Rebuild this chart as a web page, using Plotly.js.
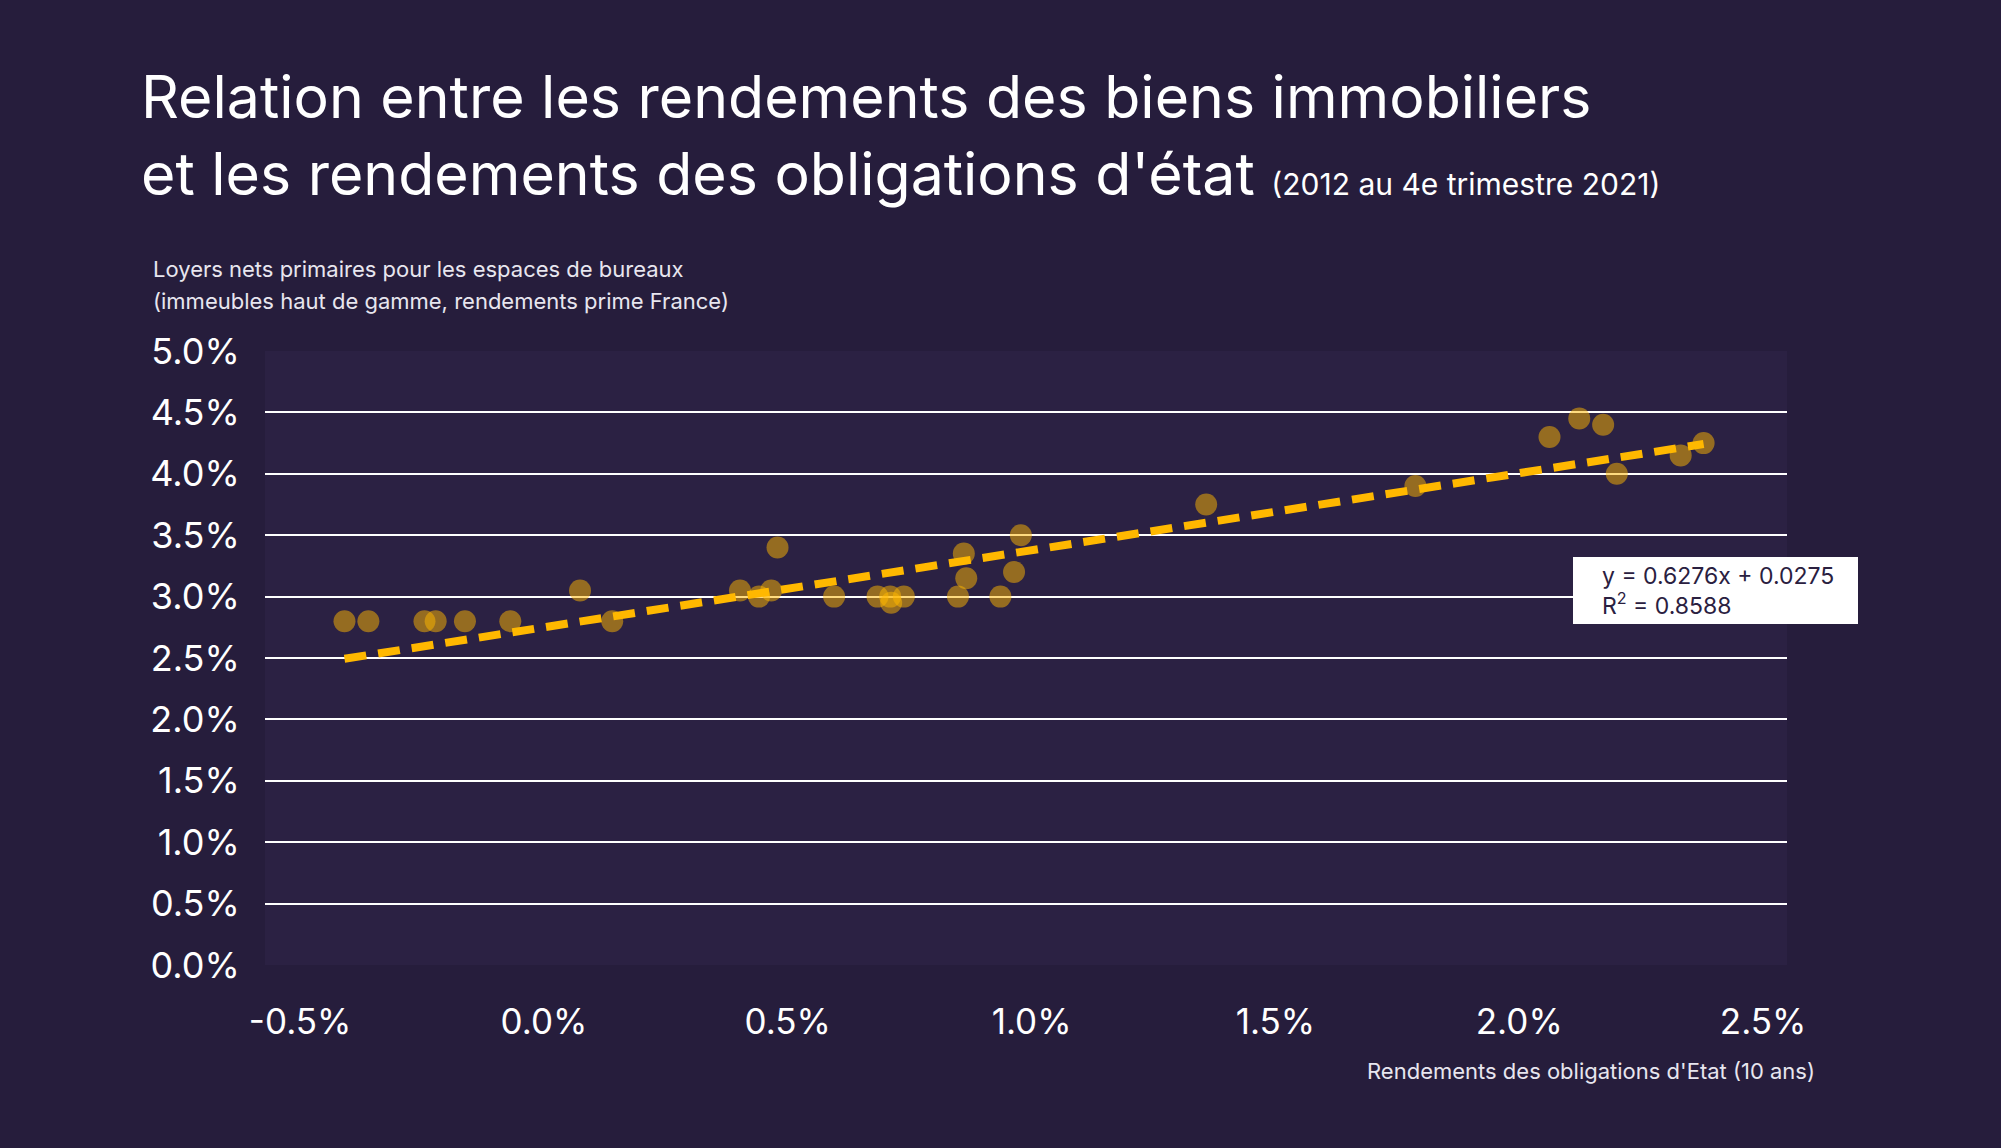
<!DOCTYPE html>
<html>
<head>
<meta charset="utf-8">
<script src="https://cdn.plot.ly/plotly-3.0.1.min.js"></script>
<style>
  html, body { margin: 0; padding: 0; background: #261d3c; }
  #chart { width: 2001px; height: 1148px; }
</style>
</head>
<body>
<div id="chart"></div>
<script>
// Government bond yields (10y), in %
const bondYield = [-0.409, -0.360, -0.245, -0.222, -0.162, -0.069, 0.074, 0.140,
  0.402, 0.441, 0.466, 0.479, 0.595, 0.684, 0.710, 0.712, 0.738, 0.849, 0.861,
  0.866, 0.936, 0.964, 0.978, 1.358, 1.787, 2.062, 2.123, 2.172, 2.200, 2.331, 2.378];
// Prime office net yields (France), in %
const primeYield = [2.80, 2.80, 2.80, 2.80, 2.80, 2.80, 3.05, 2.80,
  3.05, 3.00, 3.05, 3.40, 3.00, 3.00, 3.00, 2.95, 3.00, 3.00, 3.35,
  3.15, 3.00, 3.20, 3.50, 3.75, 3.90, 4.30, 4.45, 4.40, 4.00, 4.15, 4.25];
// Linear trend reported on the chart (fractions)
const trendSlope = 0.6276;
const trendIntercept = 0.0275;
const trendR2 = 0.8588;

const xTickVals = [-0.5, 0.0, 0.5, 1.0, 1.5, 2.0, 2.5];
const xTickText = ['-0.5%', '0.0%', '0.5%', '1.0%', '1.5%', '2.0%', '2.5%'];
const yTickVals = [0, 0.5, 1, 1.5, 2, 2.5, 3, 3.5, 4, 4.5, 5];
const yTickText = ['0.0%', '0.5%', '1.0%', '1.5%', '2.0%', '2.5%', '3.0%', '3.5%', '4.0%', '4.5%', '5.0%'];

const titleMain = 'Relation entre les rendements des biens immobiliers';
const titleLine2 = "et les rendements des obligations d'état";
const titleSub = '(2012 au 4e trimestre 2021)';
const yTitle1 = 'Loyers nets primaires pour les espaces de bureaux';
const yTitle2 = '(immeubles haut de gamme, rendements prime France)';
const xTitle = "Rendements des obligations d'Etat (10 ans)";

const xMin = Math.min(...bondYield), xMax = Math.max(...bondYield);
const trendX = [xMin, xMax];
const trendY = trendX.map(v => (trendSlope * v / 100 + trendIntercept) * 100);

const FONT = 'Inter, "Noto Sans", sans-serif';
const GOLD = '#ffb800';

const traces = [
  {
    type: 'scatter', mode: 'markers',
    x: bondYield, y: primeYield,
    marker: { color: GOLD, size: 22, opacity: 0.5, line: { width: 0 } },
    hoverinfo: 'x+y', showlegend: false
  },
  {
    type: 'scatter', mode: 'lines',
    x: trendX, y: trendY,
    line: { color: GOLD, width: 8, dash: '22px,12px' },
    hoverinfo: 'skip', showlegend: false
  }
];

const layout = {
  width: 2001, height: 1148,
  paper_bgcolor: '#261d3c',
  plot_bgcolor: '#2b2143',
  font: { family: FONT, color: '#ffffff' },
  margin: { l: 265, r: 214, t: 351, b: 183 },
  showlegend: false,
  title: {
    text: titleMain + '<br>' + titleLine2 + ' <span style="font-size:30px">' + titleSub + '</span>',
    font: { family: FONT, size: 59, color: '#ffffff' },
    x: 141 / 2001, xref: 'container', xanchor: 'left',
    y: 1 - 118 / 1148, yref: 'container', yanchor: 'top'
  },
  xaxis: {
    range: [-0.572, 2.549],
    tickmode: 'array', tickvals: xTickVals, ticktext: xTickText,
    showgrid: false, zeroline: false, showline: false,
    ticks: 'outside', ticklen: 26, tickcolor: 'rgba(0,0,0,0)',
    tickfont: { family: FONT, size: 35, color: '#ffffff' }
  },
  yaxis: {
    range: [0, 5],
    tickmode: 'array', tickvals: yTickVals, ticktext: yTickText,
    showgrid: true, gridcolor: '#ffffff', gridwidth: 2,
    zeroline: false, showline: false,
    ticks: 'outside', ticklen: 17, tickcolor: 'rgba(0,0,0,0)',
    tickfont: { family: FONT, size: 36, color: '#ffffff' }
  },
  shapes: [
    {
      type: 'rect', xref: 'paper', yref: 'paper', layer: 'above',
      x0: (1573 - 265) / 1522, x1: (1858 - 265) / 1522,
      y0: (965 - 624) / 614, y1: (965 - 557) / 614,
      fillcolor: '#ffffff', line: { width: 0 }
    }
  ],
  annotations: [
    {
      xref: 'paper', yref: 'paper',
      x: (1600 - 265) / 1522, xanchor: 'left',
      y: (965 - 590.5) / 614, yanchor: 'middle',
      align: 'left', showarrow: false,
      text: 'y = ' + trendSlope.toFixed(4) + 'x + ' + trendIntercept.toFixed(4) +
            '<br>R<sup>2</sup> = ' + trendR2.toFixed(4),
      font: { family: FONT, size: 23, color: '#2a2040' }
    },
    {
      xref: 'paper', yref: 'paper',
      x: (151 - 265) / 1522, xanchor: 'left',
      y: 1 + (351 - 269) / 614, yanchor: 'middle',
      showarrow: false, align: 'left', text: yTitle1,
      font: { family: FONT, size: 22, color: '#e8e6ef' }
    },
    {
      xref: 'paper', yref: 'paper',
      x: (151 - 265) / 1522, xanchor: 'left',
      y: 1 + (351 - 301) / 614, yanchor: 'middle',
      showarrow: false, align: 'left', text: yTitle2,
      font: { family: FONT, size: 22, color: '#e8e6ef' }
    },
    {
      xref: 'paper', yref: 'paper',
      x: (1817 - 265) / 1522, xanchor: 'right',
      y: -(1071 - 965) / 614, yanchor: 'middle',
      showarrow: false, align: 'right', text: xTitle,
      font: { family: FONT, size: 22, color: '#e8e6ef' }
    }
  ]
};

Plotly.newPlot('chart', traces, layout, { displayModeBar: false, staticPlot: true });
</script>
</body>
</html>
